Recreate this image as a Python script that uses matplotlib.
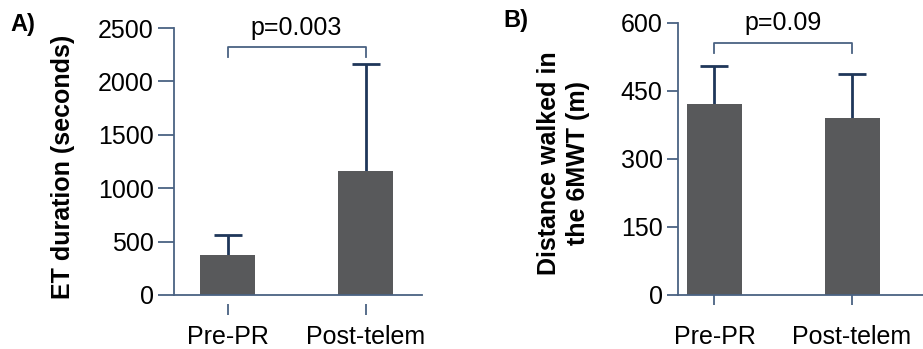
import matplotlib
matplotlib.use("Agg")
import matplotlib.pyplot as plt
import numpy as np

plt.rcParams['font.family'] = ['Liberation Sans', 'DejaVu Sans']

# data
groups = ["Pre-PR", "Post-telem"]
et_mean = [374, 1159]
et_sd = [187, 1000]
et_p = "p=0.003"
walk_mean = [421, 390]
walk_sd = [84, 97]
walk_p = "p=0.09"

bar_col = '#58595b'
axis_col = '#4a6282'
err_col = '#1f375a'
fs = 18


def panel(ax, means, sds, ylim, yticks, ylabel, ptext, tick_len, xlim):
    x = np.arange(len(means))
    ax.bar(x, means, width=0.4, color=bar_col, zorder=2)
    eb = ax.errorbar(x, means, yerr=[np.zeros(len(sds)), sds], fmt='none',
                     ecolor=err_col, elinewidth=2, capsize=10, capthick=2, zorder=1)
    # only the upper cap is drawn in the original
    eb[1][0].set_visible(False)
    ax.set_xlim(*xlim)
    ax.set_ylim(*ylim)
    ax.set_yticks(yticks)
    for s in ['top', 'right']:
        ax.spines[s].set_visible(False)
    for s in ['left', 'bottom']:
        ax.spines[s].set_color(axis_col)
        ax.spines[s].set_linewidth(1.3)
    ax.tick_params(axis='y', length=tick_len, width=1.3, color=axis_col,
                   labelsize=fs, pad=3)
    ax.set_ylabel(ylabel, fontsize=18, fontweight='bold', linespacing=1.25)
    # significance bracket
    top = ylim[1]
    y1 = top * 0.927
    y0 = top * 0.89
    ax.plot([0, 0, 1, 1], [y0, y1, y1, y0], color=axis_col, lw=1.3, clip_on=False)
    ax.text(0.5, top * 1.0, ptext, ha='center', va='center', fontsize=fs)
    return x


fig = plt.figure(figsize=(9.23, 3.49), dpi=100)

# panel A
axA = fig.add_axes([174 / 923, 54 / 349, 248 / 923, 267 / 349])
x = panel(axA, et_mean, et_sd, (0, 2500), [0, 500, 1000, 1500, 2000, 2500],
          "ET duration (seconds)", et_p, 11.5, (-0.388, 1.409))
axA.set_xticks([])
secA = axA.secondary_xaxis(-0.034)
secA.spines['bottom'].set_visible(False)
secA.set_xticks(x, groups)
secA.tick_params(length=8, width=1.3, color=axis_col, labelsize=fs, pad=7)
axA.yaxis.set_label_coords(-0.40, 0.48)
fig.text(10 / 923, 1 - 24 / 349, "A)", fontsize=17, fontweight='bold', va='center')

# panel B
axB = fig.add_axes([678 / 923, 54 / 349, 245 / 923, 272 / 349])
x = panel(axB, walk_mean, walk_sd, (0, 600), [0, 150, 300, 450, 600],
          "Distance walked in\nthe 6MWT (m)", walk_p, 8, (-0.265, 1.516))
axB.set_xticks(x, groups)
axB.tick_params(axis='x', length=7.5, width=1.3, color=axis_col, labelsize=fs, pad=14)
axB.yaxis.set_label_coords(-0.36, 0.485)
fig.text(503 / 923, 1 - 20 / 349, "B)", fontsize=17, fontweight='bold', va='center')

fig.savefig("out.png", dpi=100)
